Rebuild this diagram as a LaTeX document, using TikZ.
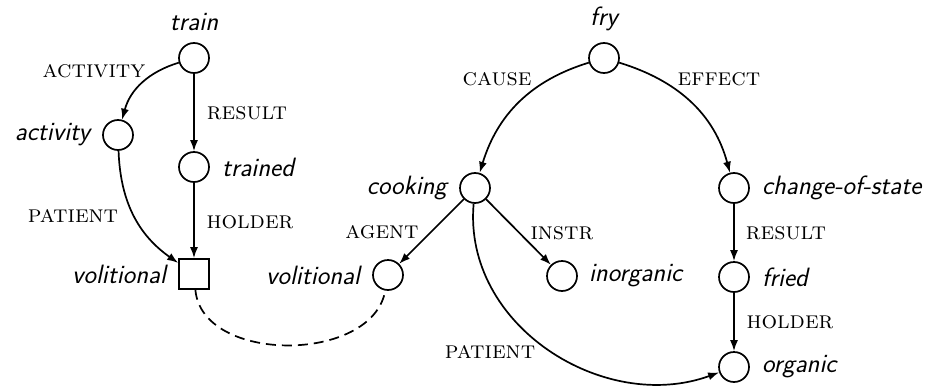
\documentclass[tikz,border=0pt]{standalone}
\usepackage{fontspec}
\usetikzlibrary{arrows.meta}
\begin{document}
\begin{tikzpicture}[x=1pt,y=1pt,
  every node/.style={font=\fontsize{24}{29}\selectfont},
  st/.style={circle,draw,line width=1.7pt,minimum size=30pt,inner sep=0pt},
  sq/.style={rectangle,draw,line width=1.7pt,minimum size=30pt,inner sep=0pt},
  nl/.style={font=\fontsize{26.5}{31}\selectfont\sffamily\itshape,inner sep=0pt},
  el/.style={font=\fontsize{24.5}{29}\selectfont\scshape,inner sep=0pt},
  edge/.style={line width=1.7pt,-{Latex[length=11pt,width=8pt]}},
  link/.style={line width=1.7pt,dash pattern=on 10pt off 6pt},
  label distance=12pt
]
\path[use as bounding box] (0,0) rectangle (927,-391);

\node[st,label={[nl,name=Ltrain,label distance=11pt]above:train}] (train) at (194,-58) {};
\node[st,label={[nl,name=Lactivity]left:activity}] (activity) at (118,-135) {};
\node[st,label={[nl,name=Ltrained]right:trained}] (trained) at (194,-167) {};
\node[sq,label={[nl,name=Lsqv]left:volitional}] (sqv) at (194,-274) {};
\node[st,label={[nl,name=Lvolc]left:volitional}] (volc) at (388,-275) {};
\node[st,label={[nl,name=Lfry,label distance=11pt]above:fry}] (fry) at (604,-58) {};
\node[st,label={[nl,name=Lcooking]left:cooking}] (cooking) at (475,-188) {};
\node[st,label={[nl,name=Lcos]right:change-of-state}] (cos) at (734,-188) {};
\node[st,label={[nl,name=Linorg,label distance=11pt]right:inorganic}] (inorg) at (562,-276) {};
\node[st,label={[nl,name=Lfried]right:fried}] (fried) at (734,-277) {};
\node[st,label={[nl,name=Lorg]right:organic}] (org) at (734,-367) {};

\draw[edge] (train) to[out=197,in=75] (activity);
\draw[edge] (train) -- (trained);
\draw[edge] (activity) to[out=-88,in=145] (sqv);
\draw[edge] (trained) -- (sqv);
\draw[link] (sqv) to[out=-85,in=-100] (volc);
\draw[edge] (fry) to[out=197,in=73] (cooking);
\draw[edge] (fry) to[out=-17,in=105] (cos);
\draw[edge] (cooking) -- (volc);
\draw[edge] (cooking) -- (inorg);
\draw[edge] (cooking) to[out=-95,in=200,looseness=1.05] (org);
\draw[edge] (cos) -- (fried);
\draw[edge] (fried) -- (org);

\node[el] (e1) at (94,-71) {activity};
\node[el] (e2) at (247,-113) {result};
\node[el] (e3) at (73,-216) {patient};
\node[el] (e4) at (250,-222) {holder};
\node[el] (e5) at (382,-232) {agent};
\node[el] (e6) at (497,-79) {cause};
\node[el] (e7) at (719,-79) {effect};
\node[el] (e8) at (562,-233) {instr};
\node[el] (e9) at (786,-233) {result};
\node[el] (e10) at (790,-322) {holder};
\node[el] (e11) at (490,-352) {patient};
\end{tikzpicture}
\end{document}
